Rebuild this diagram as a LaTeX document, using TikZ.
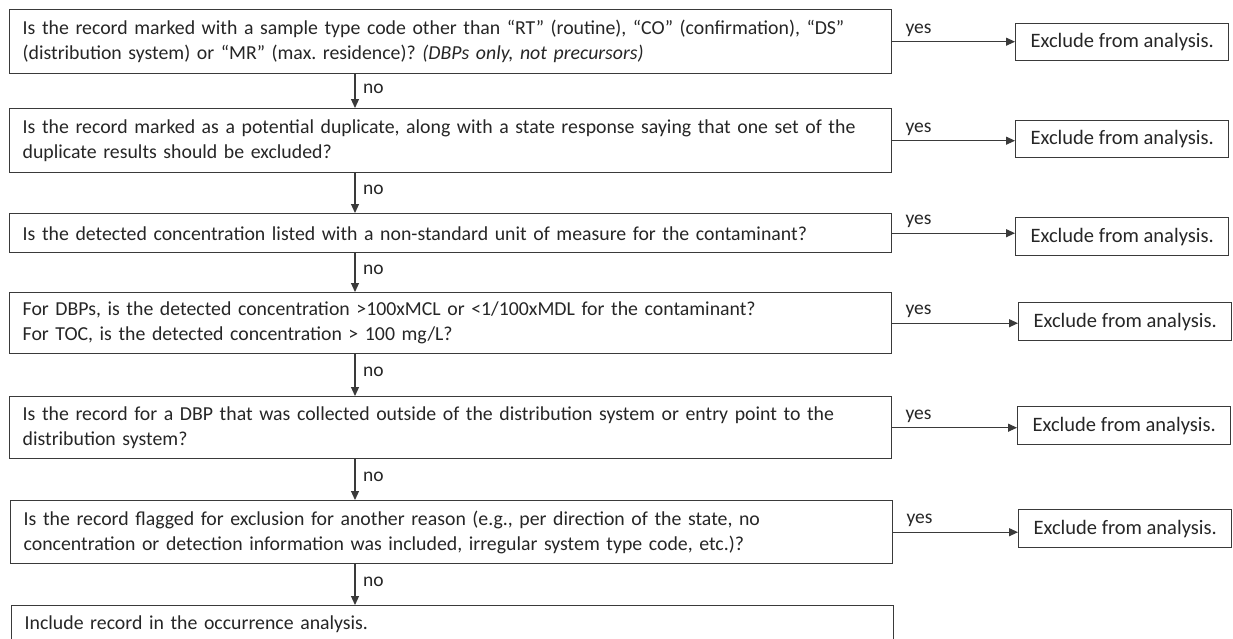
\documentclass[tikz,border=0pt]{standalone}
\usepackage{fontspec}
\setmainfont{Carlito}
\frenchspacing
\usetikzlibrary{arrows.meta,calc}
\definecolor{ink}{HTML}{262626}
\definecolor{edge}{HTML}{3A3A3A}
\tikzset{
  qbox/.style={draw=edge, line width=1.4pt, anchor=north west, inner xsep=13pt,
    text width=856pt, minimum width=882pt, align=left, text=ink,
    font=\fontsize{19.8}{25}\selectfont},
  xbox/.style={draw=edge, line width=1.4pt, anchor=north west, minimum width=213pt,
    text=ink, font=\fontsize{20.5}{25}\selectfont, inner sep=0pt},
  conn/.style={draw=edge, line width=1.1pt, -{Triangle[length=9pt,width=8pt]}},
  lbl/.style={text=ink, font=\fontsize{19.5}{22}\selectfont, inner sep=0pt},
}
\begin{document}
\begin{tikzpicture}[x=1pt,y=1pt]
\useasboundingbox (0,0) rectangle (1233,-638);
\clip (0,0) rectangle (1233,-638);
\fill[white] (0,0) rectangle (1233,-638);
\coordinate (ax) at (355,0);
% question boxes
\node[qbox, minimum height=64pt] (q1) at (9,-9) {Is the record marked with a sample type code other than “RT” (routine), “CO” (confirmation), “DS”\\(distribution system) or “MR” (max. residence)? \textit{(DBPs only, not precursors)}};
\node[qbox, minimum height=64pt] (q2) at (9,-108) {Is the record marked as a potential duplicate, along with a state response saying that one set of the\\duplicate results should be excluded?};
\node[qbox, minimum height=39pt] (q3) at (9,-213) {Is the detected concentration listed with a non-standard unit of measure for the contaminant?};
\node[qbox, minimum height=61pt] (q4) at (9,-292) {For DBPs, is the detected concentration >100xMCL or <1/100xMDL for the contaminant?\\For TOC, is the detected concentration > 100 mg/L?};
\node[qbox, minimum height=62pt] (q5) at (9,-396) {Is the record for a DBP that was collected outside of the distribution system or entry point to the\\distribution system?};
\node[qbox, minimum height=63pt] (q6) at (10,-500) {Is the record flagged for exclusion for another reason (e.g., per direction of the state, no\\concentration or detection information was included, irregular system type code, etc.)?};
\node[qbox, minimum height=38pt] (q7) at (11,-605) {Include record in the occurrence analysis.};
% exclude boxes
\node[xbox, minimum height=37pt] (e1) at (1015,-23) {Exclude from analysis.};
\node[xbox, minimum height=37pt] (e2) at (1015,-120) {Exclude from analysis.};
\node[xbox, minimum height=38pt] (e3) at (1015,-217) {Exclude from analysis.};
\node[xbox, minimum height=38pt] (e4) at (1018,-302) {Exclude from analysis.};
\node[xbox, minimum height=38pt] (e5) at (1017,-406) {Exclude from analysis.};
\node[xbox, minimum height=38pt] (e6) at (1018,-509) {Exclude from analysis.};
% yes connectors
\foreach \i in {1,...,6}{
  \draw[conn] (q\i.east) -- (q\i.east -| e\i.west);
  \node[lbl, anchor=south west] at ($(q\i.east)+(13,5)$) {yes};
}
% no connectors
\foreach \i/\j in {1/2,2/3,3/4,4/5,5/6,6/7}{
  \draw[conn] (q\i.south -| ax) -- (q\j.north -| ax);
  \node[lbl, anchor=west] at ($(q\i.south -| ax)!0.42!(q\j.north -| ax)+(8,0)$) {no};
}
\end{tikzpicture}
\end{document}
